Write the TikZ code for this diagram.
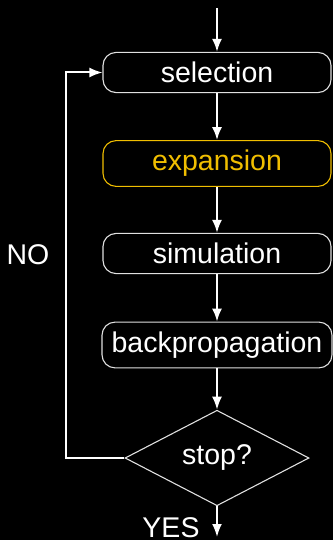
\documentclass[tikz,border=0pt]{standalone}
\usepackage{fontspec}
\setmainfont{Liberation Sans}
\usetikzlibrary{arrows.meta,shapes.geometric}
\definecolor{gold}{RGB}{240,190,0}
\begin{document}
\begin{tikzpicture}[x=1pt,y=-1pt,
  every node/.style={font=\fontsize{28.5}{34}\selectfont, text=white},
  stepbox/.style={draw=white!88!black, line width=1.1pt, rounded corners=13pt,
    minimum width=228pt, inner sep=9.6pt},
  hilite/.style={stepbox, draw=gold, text=gold},
  decision/.style={diamond, draw=white!88!black, line width=1.1pt,
    minimum width=184pt, minimum height=92pt, inner sep=0pt},
  flow/.style={draw=white, line width=2pt, -{Latex[length=13pt,width=10pt]}},
  plain/.style={draw=white, line width=2pt}]
  % canvas
  \fill[black] (0,0) rectangle (333,540);
  \useasboundingbox (0,0) rectangle (333,540);

  % steps of the loop
  \node[stepbox] (sel) at (217,72.5) {selection};
  \node[hilite]  (exp) at (217,163.5) {expansion};
  \node[stepbox] (sim) at (217,253.5) {simulation};
  \node[stepbox] (bp)  at (217,345) {backpropagation};
  \node[decision] (stop) at (217,458) {stop?};

  % labels
  \node (no) at (28,255) {NO};
  \node[anchor=base] (yes) at (171,537) {YES};

  % free ends of connectors
  \coordinate (in) at (217,8);
  \coordinate (out) at (217,537);
  \coordinate (loopx) at (66,0);

  % connectors
  \draw[flow] (in) -- (sel.north);
  \draw[flow] (sel) -- (exp);
  \draw[flow] (exp) -- (sim);
  \draw[flow] (sim) -- (bp);
  \draw[flow] (bp) -- (stop.north);
  \draw[flow] (stop.south) -- (out);
  \draw[flow] (stop.west) -- (stop.west -| loopx) |- (sel.west);
\end{tikzpicture}
\end{document}
